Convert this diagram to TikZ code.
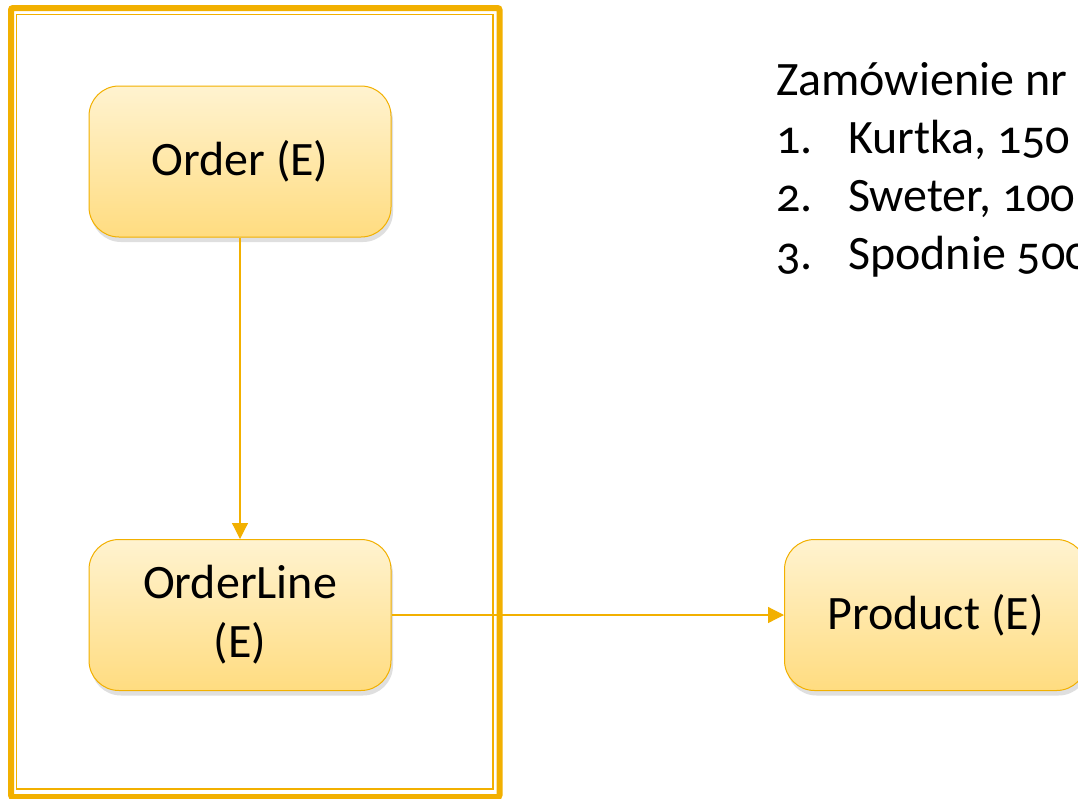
\documentclass[tikz,border=0pt]{standalone}
\usepackage{fontspec}
\setmainfont{Carlito}[Numbers=OldStyle]
\usetikzlibrary{arrows.meta,shadows}

\definecolor{frameor}{RGB}{242,176,0}
\definecolor{boxtop}{RGB}{255,243,208}
\definecolor{boxbot}{RGB}{255,220,128}

\tikzset{
  entity/.style={draw=frameor, line width=1pt, rounded corners=30pt,
    top color=boxtop, bottom color=boxbot,
    minimum width=302pt, minimum height=151pt, align=center,
    font=\fontsize{48}{59}\selectfont,
    drop shadow={shadow xshift=2pt, shadow yshift=-5pt, opacity=0.25}},
  link/.style={draw=frameor, line width=1.2pt, -{Triangle[width=16pt,length=16pt]}},
  listtext/.style={anchor=base west, inner sep=0pt, font=\fontsize{48}{59}\selectfont}
}

\begin{document}
\begin{tikzpicture}[x=1pt,y=-1pt]
        \useasboundingbox (0,0) rectangle (1078,798);
        \clip (0,0) rectangle (1078,798);
        \fill [white] (0,0) rectangle (1078,798);

        % aggregate frame
        \draw [frameor, line width=6pt, rounded corners=2pt] (11,8) rectangle (499.5,797);
        \draw [frameor, line width=1.5pt] (16.5,14.5) rectangle (493,789);

        \node [entity] (order) at (240,161.5) {Order (E)};
        \node [entity] (orderline) at (240,615) {OrderLine\\(E)};
        \node [entity] (product) at (935.5,615) {Product (E)};

        \draw [link] (order) -- (orderline);
        \draw [link] (orderline) -- (product);

        % order contents
        \node [listtext] (title) at (776,95) {Zamówienie nr};
        \node [listtext] (num1) at (776,153) {1.};
        \node [listtext] (item1) at (848,153) {Kurtka, 150};
        \node [listtext] (num2) at (776,211) {2.};
        \node [listtext] (item2) at (848,211) {Sweter, 100};
        \node [listtext] (num3) at (776,269) {3.};
        \node [listtext] (item3) at (848,269) {Spodnie 500};

    \end{tikzpicture}
\end{document}
